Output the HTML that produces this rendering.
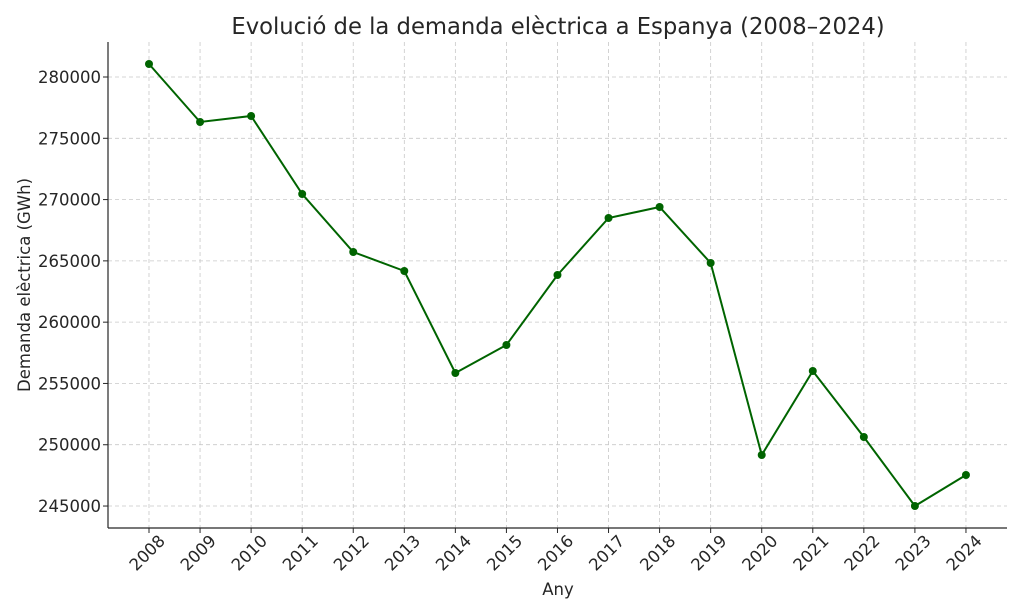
<!DOCTYPE html><html><head><style>body{margin:0;background:#fff}svg{display:block}text{font-family:"DejaVu Sans","Liberation Sans",sans-serif;fill:#262626}</style></head><body>
<svg width="1023" height="614" xmlns="http://www.w3.org/2000/svg">
<g stroke="#c8c8c8" stroke-dasharray="4,3" stroke-width="0.8">
<line x1="108" x2="1007" y1="77" y2="77"/><line x1="108" x2="1007" y1="138.3" y2="138.3"/><line x1="108" x2="1007" y1="199.6" y2="199.6"/><line x1="108" x2="1007" y1="260.9" y2="260.9"/><line x1="108" x2="1007" y1="322.1" y2="322.1"/><line x1="108" x2="1007" y1="383.4" y2="383.4"/><line x1="108" x2="1007" y1="444.7" y2="444.7"/><line x1="108" x2="1007" y1="506" y2="506"/>
<g id="vg"></g>
</g>
<script>
var xs=[],g=document.getElementById('vg');for(var i=0;i<17;i++){var x=149+i*51.06;xs.push(x);var l=document.createElementNS('http://www.w3.org/2000/svg','line');l.setAttribute('x1',x);l.setAttribute('x2',x);l.setAttribute('y1',42);l.setAttribute('y2',528);g.appendChild(l);}
</script>
<polyline id="pl" fill="none" stroke="#006400" stroke-width="2"/>
<g id="pts" fill="#006400"></g>
<g id="tk"></g>
<line x1="108" y1="42" x2="108" y2="528" stroke="#262626" stroke-width="1.2"/>
<line x1="108" y1="528" x2="1007" y2="528" stroke="#262626" stroke-width="1.2"/>
<g text-anchor="end" id="yl"></g>
<text x="558" y="34" font-size="22.7" text-anchor="middle">Evolució de la demanda elèctrica a Espanya (2008–2024)</text>
<text x="558" y="595" font-size="16.5" text-anchor="middle">Any</text>
<text transform="translate(30,285) rotate(-90)" font-size="16.5" text-anchor="middle">Demanda elèctrica (GWh)</text>
<script>
var NS='http://www.w3.org/2000/svg';
var ys=[64,122,116,194,252,271,373,345,275,218,207,263,455,371,437,506,475];
var p='';for(var i=0;i<17;i++){p+=xs[i]+','+ys[i]+' ';var c=document.createElementNS(NS,'circle');c.setAttribute('cx',xs[i]);c.setAttribute('cy',ys[i]);c.setAttribute('r',4);document.getElementById('pts').appendChild(c);
var t=document.createElementNS(NS,'line');t.setAttribute('x1',xs[i]);t.setAttribute('x2',xs[i]);t.setAttribute('y1',528);t.setAttribute('y2',533);t.setAttribute('stroke','#262626');document.getElementById('tk').appendChild(t);
var tx=document.createElementNS(NS,'text');tx.setAttribute('font-size','16.5');tx.setAttribute('text-anchor','end');tx.setAttribute('transform','translate('+(xs[i]+17)+',542) rotate(-45)');tx.textContent=2008+i;document.getElementById('tk').appendChild(tx);}
document.getElementById('pl').setAttribute('points',p);
for(var k=0;k<8;k++){var y=77+k*61.29;var t=document.createElementNS(NS,'line');t.setAttribute('x1',103);t.setAttribute('x2',108);t.setAttribute('y1',y);t.setAttribute('y2',y);t.setAttribute('stroke','#262626');document.getElementById('tk').appendChild(t);
var tx=document.createElementNS(NS,'text');tx.setAttribute('x',101);tx.setAttribute('y',y+6);tx.setAttribute('font-size','16.5');tx.setAttribute('text-anchor','end');tx.textContent=280000-k*5000;document.getElementById('yl').appendChild(tx);}
</script>
</svg></body></html>
